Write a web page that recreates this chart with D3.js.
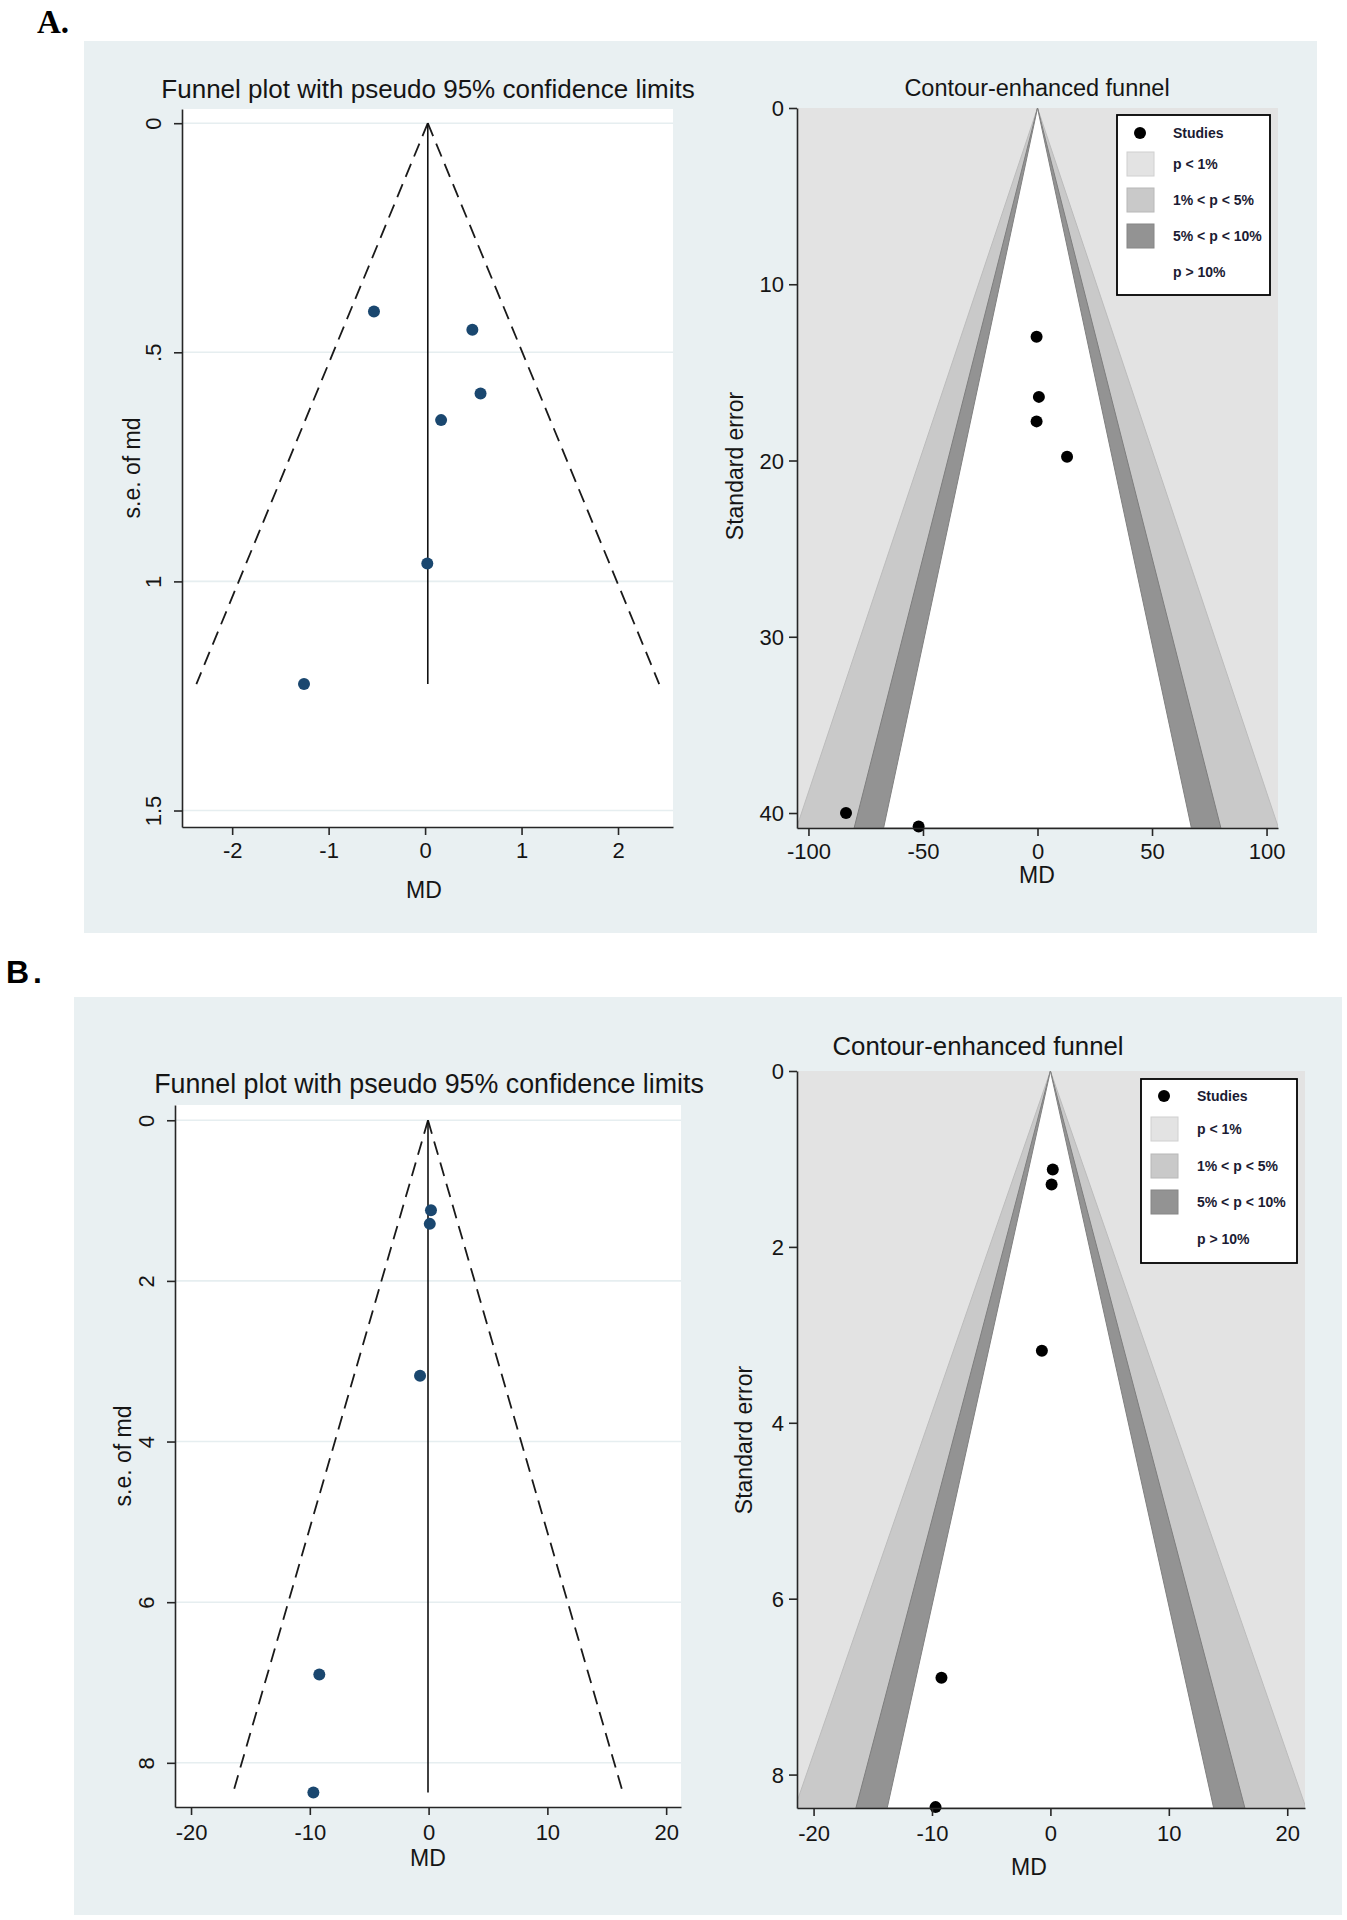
<!DOCTYPE html>
<html><head><meta charset="utf-8">
<script src="https://cdn.jsdelivr.net/npm/d3@7"></script>
<style>
body{margin:0;background:#fff}
svg{display:block}
text{font-family:"Liberation Sans",Arial,sans-serif;fill:#151515}
</style>
</head><body>
<svg id="c" width="1347" height="1920"></svg>
<script>
// ---------- Data ----------
// Panel A, standard funnel (MD vs s.e. of md)
const mdA = [-0.53, 0.49, 0.575, 0.166, 0.023, -1.255];
const seA = [0.411, 0.451, 0.59, 0.648, 0.961, 1.224];
const pooledA = 0.028;
// Panel A, contour-enhanced funnel
const mdA2 = [-0.4, 0.6, -0.4, 12.9, -83.6, -51.9];
const seA2 = [12.98, 16.39, 17.78, 19.79, 40.0, 40.77];
// Panel B (both plots)
const mdB = [0.2, 0.1, -0.72, -9.2, -9.7];
const seB = [1.12, 1.29, 3.18, 6.9, 8.37];
const pooledB = -0.05;
// Ticks
const xTicksA = [-2, -1, 0, 1, 2];
const yTicksA = [0, 0.5, 1, 1.5];
const yTickLabelsA = ["0", ".5", "1", "1.5"];
const xTicksA2 = [-100, -50, 0, 50, 100];
const yTicksA2 = [0, 10, 20, 30, 40];
const xTicksB = [-20, -10, 0, 10, 20];
const yTicksB = [0, 2, 4, 6, 8];
// Contours (z values for 1%, 5%, 10%)
const contourZ = [2.576, 1.96, 1.645];
const contourFill = ["#c9c9c9", "#939393", "#ffffff"];
const contourStroke = ["#bcbcbc", "#7e7e7e", "#808080"];
const outerFill = "#e3e3e3";
const legendLabels = ["Studies", "p < 1%", "1% < p < 5%", "5% < p < 10%", "p > 10%"];
const legendFills = [null, "#e3e3e3", "#c9c9c9", "#939393", "#ffffff"];

const svg = d3.select("#c");
const BG = "#e9f0f2";

// panel backgrounds
svg.append("rect").attr("x",84).attr("y",41).attr("width",1233).attr("height",892).attr("fill",BG);
svg.append("rect").attr("x",74).attr("y",997).attr("width",1268).attr("height",918).attr("fill",BG);

svg.append("text").attr("x",37).attr("y",33).text("A.")
  .style("font-family",'"Liberation Serif","Times New Roman",serif').style("font-weight","bold").style("font-size","33px").style("fill","#000");
svg.append("text").attr("x",6).attr("y",983).text("B.")
  .style("font-weight","bold").style("font-size","32px").style("letter-spacing","4px").style("fill","#000");

const fmt = d => String(d);

function styleAxis(g, fs){
  g.attr("font-family",'"Liberation Sans",Arial,sans-serif').attr("font-size",fs).style("color","#262626");
  g.selectAll("path.domain").attr("stroke-width",1.6);
  g.selectAll(".tick line").attr("stroke-width",1.6);
  g.selectAll(".tick text").style("fill","#151515");
}

function axes(g, x, y, c){
  const xa = g.append("g").attr("transform",`translate(0,${c.rect.y1})`)
    .call(d3.axisBottom(x).tickValues(c.xticks).tickSize(8).tickSizeOuter(0).tickFormat(fmt));
  styleAxis(xa, 22);
  xa.selectAll(".tick text").attr("y",c.xlabOff).attr("dy",0).attr("dominant-baseline","central");
  const ya = g.append("g").attr("transform",`translate(${c.rect.x0},0)`)
    .call(d3.axisLeft(y).tickValues(c.yticks).tickSize(8).tickSizeOuter(0)
      .tickFormat((d,i)=> c.ylabels ? c.ylabels[i] : fmt(d)));
  styleAxis(ya, 22);
  if (c.rotY) {
    ya.selectAll(".tick text").attr("x",0).attr("y",0).attr("dy",0)
      .attr("text-anchor","middle").attr("dominant-baseline","central")
      .attr("transform","translate(-29,0) rotate(-90)");
  } else {
    ya.selectAll(".tick text").attr("x",-13).attr("dy",0).attr("dominant-baseline","central");
  }
  // titles
  g.append("text").attr("x",c.title[1]).attr("y",c.title[2]).attr("text-anchor","middle")
    .attr("dominant-baseline","central").style("font-size",c.title[3]+"px").text(c.title[0]);
  g.append("text").attr("x",c.xtitle[0]).attr("y",c.xtitle[1]).attr("text-anchor","middle")
    .attr("dominant-baseline","central").style("font-size","23px").text("MD");
  g.append("text").attr("transform",`translate(${c.ytitle[1]},${c.ytitle[2]}) rotate(-90)`)
    .attr("text-anchor","middle").attr("dominant-baseline","central").style("font-size","23px").text(c.ytitle[0]);
}

function funnelPlot(c){
  const g = svg.append("g");
  const x = d3.scaleLinear().domain(c.xdom).range([c.rect.x0, c.rect.x1]);
  const y = d3.scaleLinear().domain(c.ydom).range([c.rect.y0, c.rect.y1]);
  g.append("rect").attr("x",c.rect.x0).attr("y",c.rect.y0)
    .attr("width",c.rect.x1-c.rect.x0).attr("height",c.rect.y1-c.rect.y0).attr("fill","#fff");
  g.selectAll("line.grid").data(c.yticks).join("line").attr("class","grid")
    .attr("x1",c.rect.x0).attr("x2",c.rect.x1).attr("y1",d=>y(d)).attr("y2",d=>y(d))
    .attr("stroke","#e6eef0").attr("stroke-width",1.6);
  const semax = d3.max(c.se);
  const line = d3.line().x(d=>x(d[0])).y(d=>y(d[1]));
  [-1,1].forEach(s=>{
    g.append("path").attr("d",line([[c.pooled,0],[c.pooled+s*1.96*semax,semax]]))
      .attr("fill","none").attr("stroke","#1a1a1a").attr("stroke-width",1.8).attr("stroke-dasharray","14,8");
  });
  g.append("path").attr("d",line([[c.pooled,0],[c.pooled,semax]]))
    .attr("fill","none").attr("stroke","#111").attr("stroke-width",1.6);
  g.selectAll("circle").data(c.md).join("circle")
    .attr("cx",d=>x(d)).attr("cy",(d,i)=>y(c.se[i])).attr("r",6).attr("fill","#1a476f");
  axes(g, x, y, c);
}

function contourPlot(c, id){
  const g = svg.append("g");
  const x = d3.scaleLinear().domain(c.xdom).range([c.rect.x0, c.rect.x1]);
  const y = d3.scaleLinear().domain(c.ydom).range([c.rect.y0, c.rect.y1]);
  svg.append("clipPath").attr("id",id).append("rect").attr("x",c.rect.x0).attr("y",c.rect.y0)
    .attr("width",c.rect.x1-c.rect.x0).attr("height",c.rect.y1-c.rect.y0);
  const pg = g.append("g").attr("clip-path",`url(#${id})`);
  pg.append("rect").attr("x",c.rect.x0).attr("y",c.rect.y0)
    .attr("width",c.rect.x1-c.rect.x0).attr("height",c.rect.y1-c.rect.y0).attr("fill",outerFill);
  const smax = c.ydom[1];
  const line = d3.line().x(d=>x(d[0])).y(d=>y(d[1]));
  contourZ.forEach((z,i)=>{
    pg.append("path").attr("d",line([[0,0],[-z*smax,smax],[z*smax,smax]])+"Z")
      .attr("fill",contourFill[i]).attr("stroke",contourStroke[i]).attr("stroke-width",1);
  });
  // legend
  const L = c.legend;
  const lg = g.append("g").attr("transform",`translate(${L.x},${L.y})`);
  lg.append("rect").attr("width",L.w).attr("height",L.h).attr("fill","#fff").attr("stroke","#000").attr("stroke-width",1.8);
  legendLabels.forEach((lab,i)=>{
    const ry = L.rows[i];
    if (i===0) lg.append("circle").attr("cx",23).attr("cy",ry).attr("r",6).attr("fill","#000");
    else lg.append("rect").attr("x",10).attr("y",ry-12).attr("width",27).attr("height",24)
      .attr("fill",legendFills[i]).attr("stroke", i===4 ? "none" : d3.color(legendFills[i]).darker(0.25)).attr("stroke-width",1);
    lg.append("text").attr("x",56).attr("y",ry).attr("dominant-baseline","central")
      .style("font-size","14px").style("font-weight","bold").style("fill","#1b1b33").text(lab);
  });
  g.selectAll("circle.pt").data(c.md).join("circle").attr("class","pt")
    .attr("cx",d=>x(d)).attr("cy",(d,i)=>y(c.se[i])).attr("r",6).attr("fill","#000");
  axes(g, x, y, c);
}

// Panel A left
funnelPlot({
  rect:{x0:182,x1:673,y0:109,y1:827}, xdom:[-2.52,2.57], ydom:[-0.031,1.536],
  md:mdA, se:seA, pooled:pooledA, xticks:xTicksA, yticks:yTicksA, ylabels:yTickLabelsA, rotY:true,
  xlabOff:23, title:["Funnel plot with pseudo 95% confidence limits",428,89,26],
  xtitle:[424,890], ytitle:["s.e. of md",132,468]
});
// Panel A right
contourPlot({
  rect:{x0:797,x1:1278,y0:108,y1:828}, xdom:[-105,105], ydom:[0,40.85],
  md:mdA2, se:seA2, xticks:xTicksA2, yticks:yTicksA2, rotY:false,
  xlabOff:23, title:["Contour-enhanced funnel",1037,88,23.5],
  xtitle:[1037,875], ytitle:["Standard error",735,466],
  legend:{x:1117,y:115,w:153,h:180,rows:[18,49,85,121,157]}
}, "clipA");
// Panel B left
funnelPlot({
  rect:{x0:175,x1:681,y0:1105,y1:1807}, xdom:[-21.35,21.25], ydom:[-0.19,8.55],
  md:mdB, se:seB, pooled:pooledB, xticks:xTicksB, yticks:yTicksB, rotY:true,
  xlabOff:25, title:["Funnel plot with pseudo 95% confidence limits",429,1084,26.8],
  xtitle:[428,1858], ytitle:["s.e. of md",123,1456]
});
// Panel B right
contourPlot({
  rect:{x0:797,x1:1305,y0:1071,y1:1808}, xdom:[-21.4,21.5], ydom:[0,8.38],
  md:mdB, se:seB, xticks:xTicksB, yticks:yTicksB, rotY:false,
  xlabOff:25, title:["Contour-enhanced funnel",978,1046,25.8],
  xtitle:[1029,1867], ytitle:["Standard error",744,1440],
  legend:{x:1141,y:1079,w:156,h:184,rows:[17,50,87,123,160]}
}, "clipB");
</script>
</body></html>
